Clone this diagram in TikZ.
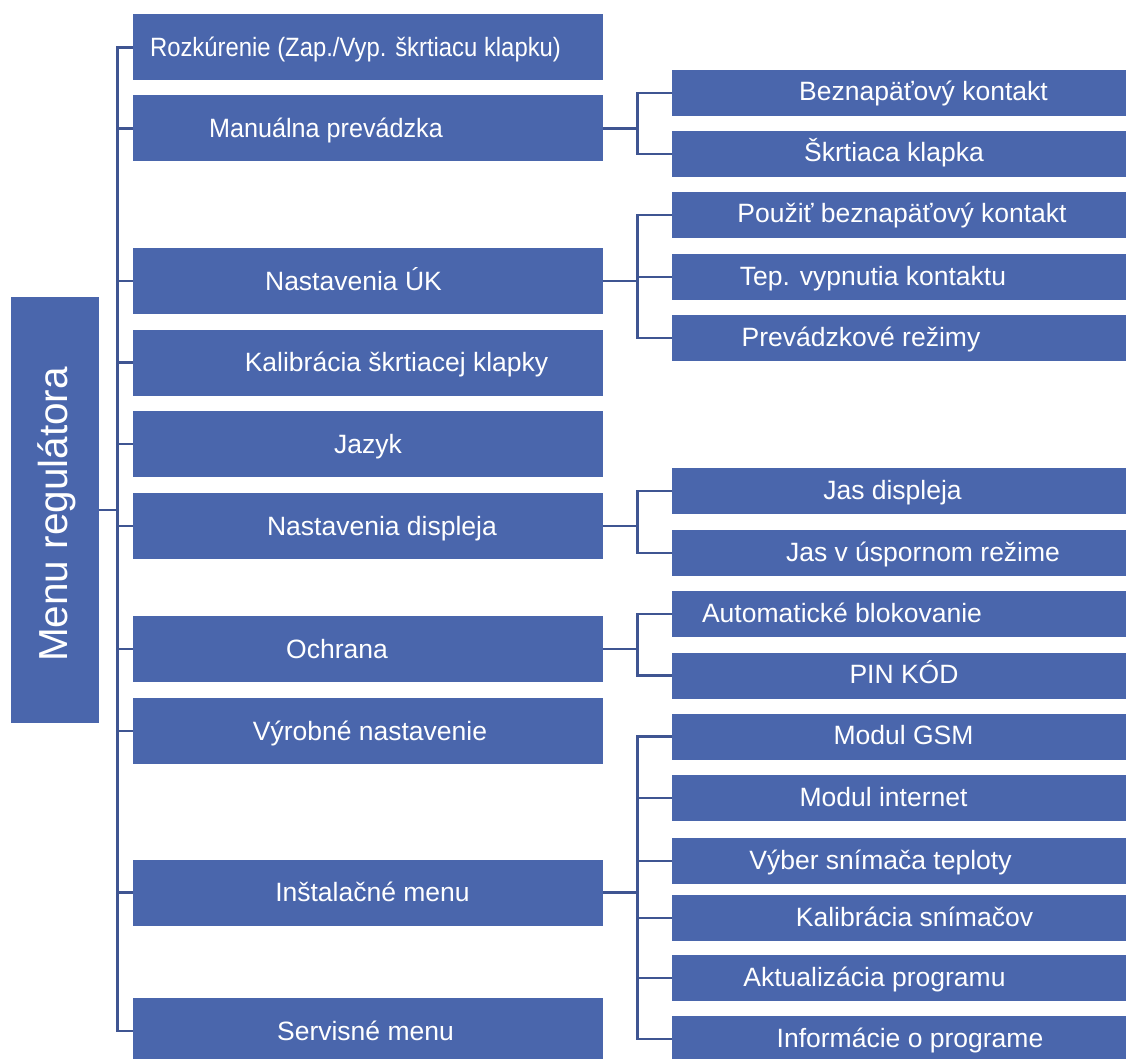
\documentclass[tikz,border=0pt]{standalone}
\usepackage{fontspec}
\setmainfont{Liberation Sans}
\definecolor{boxblue}{HTML}{4A66AC}
\definecolor{linkblue}{HTML}{3F5592}
\begin{document}
\begin{tikzpicture}[x=1pt,y=-1pt,
  lone/.style={fill=boxblue,draw=none,minimum width=470pt,minimum height=66pt,inner sep=0pt},
  ltwo/.style={fill=boxblue,draw=none,minimum width=460pt,minimum height=46pt,inner sep=0pt},
  rootbox/.style={fill=boxblue,draw=none,minimum width=88pt,minimum height=426pt,inner sep=0pt},
  txt/.style={text=white,inner sep=0pt,font=\fontsize{26.5}{30}\selectfont,text height=19pt,text depth=0pt},
  roottxt/.style={text=white,inner sep=0pt,font=\fontsize{40.5}{46}\selectfont,text height=29pt,text depth=0pt,rotate=90},
  conn/.style={draw=linkblue,line width=2.8pt}]
\useasboundingbox (0,0) rectangle (1126,1059);
\clip (0,0) rectangle (1126,1059);
\fill[white] (0,0) rectangle (1126,1059);
% root
\node[rootbox] (root) at (55,510) {};
\node[roottxt] (root-t) at (53,514.5) {Menu regulátora};
% level 1
\node[lone] (rozk) at (368,47.5) {};
\node[lone] (man) at (368,128.5) {};
\node[lone] (uk) at (368,281) {};
\node[lone] (kal) at (368,362.5) {};
\node[lone] (jaz) at (368,444) {};
\node[lone] (disp) at (368,526) {};
\node[lone] (och) at (368,649) {};
\node[lone] (vyr) at (368,731) {};
\node[lone] (inst) at (368,892.5) {};
\node[lone] (serv) at (368,1031) {};
\node[txt,xscale=0.9] (rozk-t) at (355.5,47.5) {Rozkúrenie (Zap./Vyp. škrtiacu klapku)};
\node[txt,xscale=0.95] (man-t) at (326,128) {Manuálna prevádzka};
\node[txt] (uk-t) at (353.5,280.5) {Nastavenia ÚK};
\node[txt] (kal-t) at (396.5,362) {Kalibrácia škrtiacej klapky};
\node[txt] (jaz-t) at (368,443.5) {Jazyk};
\node[txt] (disp-t) at (382,525.5) {Nastavenia displeja};
\node[txt] (och-t) at (337,648.5) {Ochrana};
\node[txt] (vyr-t) at (370,730.5) {Výrobné nastavenie};
\node[txt] (inst-t) at (372.5,891.5) {Inštalačné menu};
\node[txt] (serv-t) at (365.5,1030.5) {Servisné menu};
% level 2
\node[ltwo] (bez) at (902,93) {};
\node[ltwo] (skr) at (902,154) {};
\node[ltwo] (pou) at (902,215) {};
\node[ltwo] (tep) at (902,277) {};
\node[ltwo] (pre) at (902,338) {};
\node[ltwo] (jas) at (902,491) {};
\node[ltwo] (jasu) at (902,553) {};
\node[ltwo] (aut) at (902,614) {};
\node[ltwo] (pin) at (902,675.5) {};
\node[ltwo] (gsm) at (902,736.5) {};
\node[ltwo] (int) at (902,798) {};
\node[ltwo] (vyb) at (902,861) {};
\node[ltwo] (kals) at (902,918) {};
\node[ltwo] (akt) at (902,978) {};
\node[ltwo] (inf) at (902,1039) {};
\node[txt] (bez-t) at (923.5,91.5) {Beznapäťový kontakt};
\node[txt] (skr-t) at (894,152.5) {Škrtiaca klapka};
\node[txt] (pou-t) at (902,213.5) {Použiť beznapäťový kontakt};
\node[txt] (tep-t) at (873,275.5) {Tep. vypnutia kontaktu};
\node[txt] (pre-t) at (861,336.5) {Prevádzkové režimy};
\node[txt] (jas-t) at (892.5,489.5) {Jas displeja};
\node[txt] (jasu-t) at (923,551.5) {Jas v úspornom režime};
\node[txt] (aut-t) at (842,612.5) {Automatické blokovanie};
\node[txt] (pin-t) at (904,674) {PIN KÓD};
\node[txt] (gsm-t) at (903.5,735) {Modul GSM};
\node[txt] (int-t) at (883.5,796.5) {Modul internet};
\node[txt] (vyb-t) at (880.5,859.5) {Výber snímača teploty};
\node[txt] (kals-t) at (914.5,916.5) {Kalibrácia snímačov};
\node[txt] (akt-t) at (874.5,976.5) {Aktualizácia programu};
\node[txt] (inf-t) at (910,1037.5) {Informácie o programe};
% connectors level 1
\foreach \n in {rozk,man,uk,kal,jaz,disp,och,vyr,inst,serv}
  \draw[conn] (root.east) -- ++(18,0) |- (\n.west);
% connectors level 2
\foreach \n in {bez,skr} \draw[conn] (man.east) -- ++(34,0) |- (\n.west);
\foreach \n in {pou,tep,pre} \draw[conn] (uk.east) -- ++(34,0) |- (\n.west);
\foreach \n in {jas,jasu} \draw[conn] (disp.east) -- ++(34,0) |- (\n.west);
\foreach \n in {aut,pin} \draw[conn] (och.east) -- ++(34,0) |- (\n.west);
\foreach \n in {gsm,int,vyb,kals,akt,inf} \draw[conn] (inst.east) -- ++(34,0) |- (\n.west);
\end{tikzpicture}
\end{document}
